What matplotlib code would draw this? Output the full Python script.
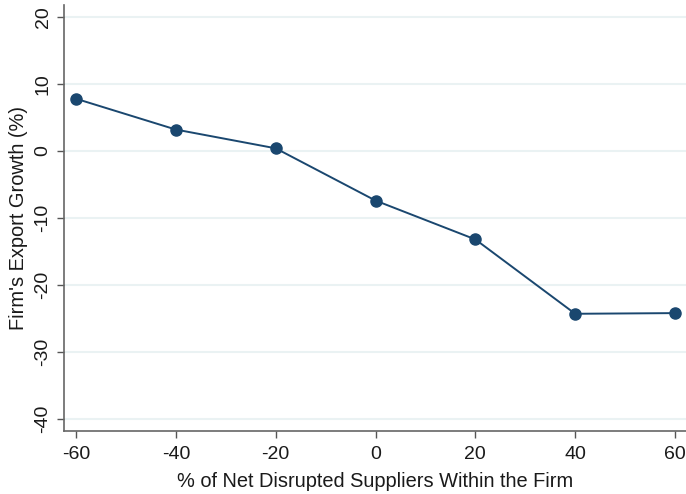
import matplotlib
matplotlib.use('Agg')
from matplotlib import pyplot as plt

plt.rcParams['font.family'] = ['Liberation Sans', 'DejaVu Sans']
plt.rcParams['axes.unicode_minus'] = False

net_disrupted = [-60, -40, -20, 0, 20, 40, 60]
export_growth = [7.8, 3.2, 0.4, -7.4, -13.2, -24.3, -24.2]
x_ticks = [-60, -40, -20, 0, 20, 40, 60]
y_ticks = [-40, -30, -20, -10, 0, 10, 20]

navy = '#1a476f'

fig = plt.figure(figsize=(6.86, 4.94), dpi=100)
ax = fig.add_axes([0.0933, 0.1275, 0.9067, 0.8625])

for yv in y_ticks:
    ax.axhline(yv, color='#eaf2f3', lw=1.5, zorder=0)

ax.plot(net_disrupted, export_growth, color=navy, lw=1.4,
        marker='o', markersize=8, markerfacecolor=navy, markeredgecolor=navy)

ax.set_xlim(-62.4, 62.2)
ax.set_ylim(-41.8, 21.8)
ax.set_xticks(x_ticks)
ax.set_yticks(y_ticks)
ax.set_yticklabels([str(v) for v in y_ticks], rotation=90, va='center')

for side in ['top', 'right']:
    ax.spines[side].set_visible(False)
for side in ['left', 'bottom']:
    ax.spines[side].set_color('#666666')
    ax.spines[side].set_linewidth(1.2)

ax.tick_params(axis='both', colors='#555555', labelcolor='#1a1a1a',
               labelsize=14, length=5, width=1.0, pad=4)
ax.tick_params(axis='x', pad=6)

ax.set_xlabel('% of Net Disrupted Suppliers Within the Firm', fontsize=14.4,
              color='#1a1a1a', labelpad=6)
ax.set_ylabel("Firm's Export Growth (%)", fontsize=14.4, color='#1a1a1a', labelpad=5)

fig.savefig('out.png', dpi=100)
